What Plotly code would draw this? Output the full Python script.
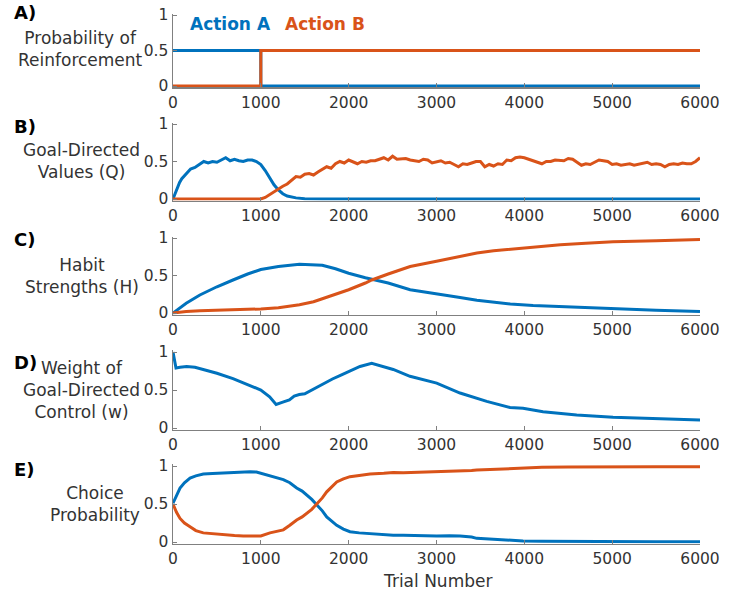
import plotly.graph_objects as go

# ---------------- data ----------------
A_x_blue = [0, 1000, 1000, 6000]
A_blue = [0.5, 0.5, 0.0, 0.0]
A_x_orange = [0, 1000, 1000, 6000]
A_orange = [0.0, 0.0, 0.5, 0.5]

B_x_blue = [0, 25, 50, 75, 100, 150, 200, 250, 300, 350, 400, 450, 500, 550, 600, 650, 700,
            750, 800, 850, 900, 950, 1000, 1050, 1100, 1150, 1200, 1250, 1300, 1400, 1500, 1700, 6000]
B_blue = [0.0, 0.08, 0.15, 0.22, 0.27, 0.33, 0.40, 0.42, 0.46, 0.50, 0.48, 0.50, 0.49, 0.52, 0.55,
          0.51, 0.53, 0.51, 0.50, 0.52, 0.52, 0.50, 0.46, 0.38, 0.28, 0.19, 0.12, 0.07, 0.04, 0.015,
          0.005, 0.0, 0.0]
B_x_orange = [0, 1000, 1050, 1100, 1150, 1200, 1250, 1300, 1350, 1400, 1450, 1500, 1550, 1600, 1650,
              1700, 1750, 1800, 1850, 1900, 1950, 2000, 2050, 2100, 2150, 2200, 2250, 2300, 2350,
              2400, 2450, 2500, 2550, 2600, 2650, 2700, 2750, 2800, 2850, 2900, 2950, 3000, 3050,
              3100, 3150, 3200, 3250, 3300, 3350, 3400, 3450, 3500, 3550, 3600, 3650, 3700, 3750,
              3800, 3850, 3900, 3950, 4000, 4050, 4100, 4150, 4200, 4250, 4300, 4350, 4400, 4450,
              4500, 4550, 4600, 4650, 4700, 4750, 4800, 4850, 4900, 4950, 5000, 5050, 5100, 5150,
              5200, 5250, 5300, 5350, 5400, 5450, 5500, 5550, 5600, 5650, 5700, 5750, 5800, 5850,
              5900, 5950, 6000]
B_orange = [0.0, 0.0, 0.02, 0.06, 0.09, 0.13, 0.17, 0.20, 0.25, 0.30, 0.29, 0.33, 0.34, 0.32, 0.36,
            0.40, 0.43, 0.41, 0.47, 0.50, 0.48, 0.52, 0.50, 0.47, 0.50, 0.49, 0.51, 0.51, 0.53,
            0.55, 0.52, 0.57, 0.53, 0.53, 0.54, 0.52, 0.51, 0.50, 0.53, 0.52, 0.48, 0.49, 0.51,
            0.48, 0.49, 0.46, 0.43, 0.47, 0.46, 0.48, 0.50, 0.50, 0.43, 0.46, 0.44, 0.47, 0.46,
            0.52, 0.51, 0.55, 0.56, 0.55, 0.53, 0.51, 0.49, 0.47, 0.50, 0.50, 0.52, 0.52, 0.51,
            0.54, 0.53, 0.49, 0.45, 0.47, 0.46, 0.49, 0.52, 0.51, 0.50, 0.46, 0.47, 0.45, 0.46,
            0.47, 0.45, 0.46, 0.48, 0.49, 0.46, 0.47, 0.46, 0.43, 0.46, 0.47, 0.46, 0.48, 0.47,
            0.47, 0.50, 0.55]

C_x = [0, 150, 306, 500, 683, 850, 1000, 1200, 1440, 1600, 1700, 1850, 2000, 2190, 2263, 2450,
       2700, 3000, 3250, 3460, 3650, 3840, 4100, 4410, 4700, 5010, 5500, 6000]
C_blue = [0.0, 0.13, 0.24, 0.35, 0.44, 0.52, 0.58, 0.62, 0.65, 0.645, 0.637, 0.59, 0.53, 0.47, 0.45,
          0.40, 0.31, 0.26, 0.21, 0.17, 0.14, 0.12, 0.10, 0.085, 0.07, 0.05, 0.035, 0.02]
C_orange = [0.0, 0.02, 0.03, 0.04, 0.047, 0.05, 0.053, 0.07, 0.11, 0.15, 0.19, 0.25, 0.31, 0.40,
            0.44, 0.52, 0.62, 0.69, 0.75, 0.80, 0.83, 0.85, 0.88, 0.91, 0.93, 0.95, 0.965, 0.98]

D_x = [0, 34, 80, 155, 250, 500, 683, 850, 1000, 1100, 1174, 1250, 1325, 1380, 1438, 1500, 1626,
       1700, 1815, 1900, 2004, 2129, 2262, 2400, 2507, 2698, 2850, 3002, 3268, 3572, 3837, 3985,
       4213, 4596, 5010, 5545, 6000]
D_w = [1.0, 0.79, 0.80, 0.81, 0.80, 0.72, 0.65, 0.57, 0.50, 0.41, 0.31, 0.34, 0.37, 0.42, 0.44,
       0.45, 0.53, 0.58, 0.645, 0.69, 0.745, 0.81, 0.85, 0.81, 0.77, 0.68, 0.64, 0.59, 0.46, 0.35,
       0.27, 0.26, 0.215, 0.17, 0.14, 0.12, 0.105]

E_x = [0, 40, 80, 130, 194, 260, 345, 450, 573, 700, 800, 877, 950, 1000, 1104, 1180, 1256, 1330,
       1408, 1470, 1522, 1580, 1636, 1700, 1750, 1810, 1864, 1940, 2015, 2120, 2243, 2400, 2507,
       2622, 2750, 2880, 3002, 3150, 3268, 3400, 3458, 3600, 3800, 3985, 4200, 4500, 4744, 5000,
       5500, 6000]
E_blue = [0.51, 0.62, 0.71, 0.78, 0.84, 0.87, 0.895, 0.90, 0.91, 0.915, 0.92, 0.925, 0.92, 0.905,
          0.87, 0.85, 0.82, 0.78, 0.71, 0.67, 0.62, 0.56, 0.49, 0.41, 0.33, 0.27, 0.22, 0.17, 0.135,
          0.12, 0.11, 0.095, 0.09, 0.09, 0.085, 0.08, 0.079, 0.082, 0.08, 0.065, 0.048, 0.04, 0.025,
          0.013, 0.01, 0.007, 0.005, 0.005, 0.004, 0.004]
E_orange = [0.50, 0.39, 0.31, 0.25, 0.20, 0.15, 0.12, 0.11, 0.09, 0.085, 0.08, 0.08, 0.08, 0.08,
            0.12, 0.14, 0.16, 0.22, 0.29, 0.33, 0.38, 0.43, 0.50, 0.58, 0.66, 0.73, 0.79, 0.83,
            0.86, 0.875, 0.895, 0.905, 0.915, 0.91, 0.915, 0.92, 0.92, 0.925, 0.93, 0.94, 0.947,
            0.955, 0.968, 0.978, 0.983, 0.987, 0.99, 0.99, 0.99, 0.99]

x_ticks = [0, 1000, 2000, 3000, 4000, 5000, 6000]
y_ticks = [0, 0.5, 1]
y_tick_text = ["0", "0.5", "1"]
panel_labels = ["A)", "B)", "C)", "D)", "E)"]
y_titles = ["Probability of<br>Reinforcement", "Goal-Directed<br>Values (Q)",
            "Habit<br>Strengths (H)", "Weight of<br>Goal-Directed<br>Control (w)",
            "Choice<br>Probability"]
legend_names = ["Action A", "Action B"]
x_title = "Trial Number"

# ---------------- styling ----------------
W, H = 731, 594
BLUE = "#0072BD"
ORANGE = "#D95319"
AX = "#808080"
TXT = "#333333"
FONT = "DejaVu Sans"


def px_x(p):
    return p / W


def px_y(p):
    return 1 - p / H


# pixel positions of y=1 and y=0 in each panel
panel_px = [(15, 86), (124, 199), (238, 313), (352, 428), (466, 542)]
x_left, x_right = 173, 700
YR = [-0.02, 1.02]

fig = go.Figure()

series = [
    [(A_x_blue, A_blue, BLUE), (A_x_orange, A_orange, ORANGE)],
    [(B_x_blue, B_blue, BLUE), (B_x_orange, B_orange, ORANGE)],
    [(C_x, C_blue, BLUE), (C_x, C_orange, ORANGE)],
    [(D_x, D_w, BLUE)],
    [(E_x, E_blue, BLUE), (E_x, E_orange, ORANGE)],
]

layout = dict(width=W, height=H, margin=dict(l=0, r=0, t=0, b=0, pad=0),
              template="none",
              paper_bgcolor="white", plot_bgcolor="white", showlegend=False,
              font=dict(family=FONT, color=TXT, size=15))
annotations = []

for i, (top, bot) in enumerate(panel_px):
    n = i + 1
    xa = "x" if n == 1 else f"x{n}"
    ya = "y" if n == 1 else f"y{n}"
    for xs, ys, c in series[i]:
        fig.add_trace(go.Scatter(x=xs, y=ys, mode="lines", line=dict(color=c, width=3),
                                 xaxis=xa, yaxis=ya, hoverinfo="skip"))
    unit = bot - top
    pad = unit * 0.02
    ptop = top - pad
    pbot = bot + pad
    layout["xaxis" if n == 1 else f"xaxis{n}"] = dict(
        domain=[px_x(x_left), px_x(x_right)], anchor=ya, range=[0, 6000], automargin=False,
        tickvals=x_ticks, ticks="inside", ticklen=4, tickcolor=AX, tickwidth=1,
        showline=True, linecolor=AX, linewidth=1.5, showgrid=False, zeroline=False,
        ticklabeloverflow="allow",
        tickfont=dict(size=15.5, color=TXT, family=FONT))
    layout["yaxis" if n == 1 else f"yaxis{n}"] = dict(
        domain=[px_y(pbot), px_y(ptop)], anchor=xa, range=YR, automargin=False,
        tickvals=y_ticks, ticktext=y_tick_text, ticks="inside", ticklen=4, tickcolor=AX,
        tickwidth=1, showline=True, linecolor=AX, linewidth=1.5, showgrid=False,
        zeroline=False, ticklabeloverflow="allow",
        tickfont=dict(size=15.5, color=TXT, family=FONT))

# panel letters
label_pos = [(12, 12), (12, 127), (12, 240), (12, 362), (12, 470)]
for lab, (lx, ly) in zip(panel_labels, label_pos):
    annotations.append(dict(text=f"<b>{lab}</b>", x=px_x(lx), y=px_y(ly), xref="paper",
                            yref="paper", xanchor="left", yanchor="middle", showarrow=False,
                            font=dict(size=18, color="black", family=FONT)))

# y titles
title_pos = [(80, 49), (81, 161), (82, 276), (81, 390), (95, 504)]
for t, (tx, ty) in zip(y_titles, title_pos):
    annotations.append(dict(text=t, x=px_x(tx), y=px_y(ty), xref="paper", yref="paper",
                            xanchor="center", yanchor="middle", showarrow=False,
                            font=dict(size=17, color=TXT, family=FONT)))

# legend-like labels in panel A
annotations.append(dict(text=f"<b>{legend_names[0]}</b>", x=px_x(188), y=px_y(24),
                        xref="paper", yref="paper", xanchor="left", yanchor="middle",
                        showarrow=False, font=dict(size=17, color=BLUE, family=FONT)))
annotations.append(dict(text=f"<b>{legend_names[1]}</b>", x=px_x(283), y=px_y(24),
                        xref="paper", yref="paper", xanchor="left", yanchor="middle",
                        showarrow=False, font=dict(size=17, color=ORANGE, family=FONT)))

# x title
annotations.append(dict(text=x_title, x=px_x(437), y=px_y(581), xref="paper", yref="paper",
                        xanchor="center", yanchor="middle", showarrow=False,
                        font=dict(size=17, color=TXT, family=FONT)))

layout["annotations"] = annotations
fig.update_layout(**layout)
fig.write_html("out.html",
               config={"displayModeBar": False, "staticPlot": True},
               post_script="document.body.style.margin='0px';document.body.style.padding='0px';")
